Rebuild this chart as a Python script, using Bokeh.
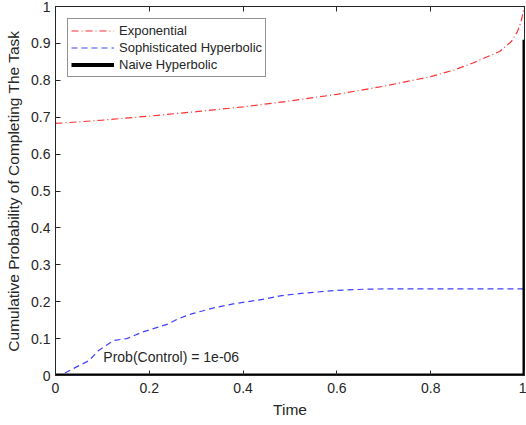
from bokeh.plotting import figure
from bokeh.models import Range1d, FixedTicker, LinearAxis, Legend, LegendItem
from bokeh.core.properties import value
from bokeh.embed import file_html
from bokeh.resources import INLINE

# ---- data ----
x_ticks = [0, 0.2, 0.4, 0.6, 0.8, 1]
x_tick_labels = ["0", "0.2", "0.4", "0.6", "0.8", "1"]
y_ticks = [0, 0.1, 0.2, 0.3, 0.4, 0.5, 0.6, 0.7, 0.8, 0.9, 1]
y_tick_labels = ["0", "0.1", "0.2", "0.3", "0.4", "0.5", "0.6", "0.7", "0.8", "0.9", "1"]

exp_t = [0.0, 0.1, 0.2, 0.3, 0.4, 0.5, 0.6, 0.7, 0.8, 0.85, 0.89, 0.947, 0.972, 0.985, 0.993, 0.998, 1.0]
exp_p = [0.683, 0.692, 0.703, 0.715, 0.728, 0.744, 0.762, 0.784, 0.81, 0.828, 0.847, 0.878, 0.905, 0.932, 0.96, 0.99, 1.0]

soph_t = [0.0, 0.01, 0.043, 0.071, 0.092, 0.124, 0.152, 0.184, 0.241, 0.262, 0.29, 0.34,
          0.379, 0.45, 0.479, 0.52, 0.592, 0.66, 0.734, 0.85, 1.0]
soph_p = [0.0, 0.0, 0.022, 0.04, 0.068, 0.095, 0.1, 0.117, 0.14, 0.154, 0.167, 0.184,
          0.194, 0.208, 0.216, 0.222, 0.23, 0.234, 0.235, 0.235, 0.235]

naive_t = [0.0, 1.0, 1.0]
naive_p = [0.0, 0.0, 0.91]

series_names = ["Exponential", "Sophisticated Hyperbolic", "Naive Hyperbolic"]
annotation_text = "Prob(Control) = 1e-06"
annotation_pos = (0.102, 0.051)

FONT = "Liberation Sans"
DARK = "#262626"

p = figure(width=526, height=425, x_range=Range1d(0, 1), y_range=Range1d(0, 1),
           output_backend="svg", toolbar_location=None,
           min_border_left=55, min_border_right=2, min_border_top=6, min_border_bottom=50)
p.outline_line_color = DARK
p.outline_line_width = 1
p.xgrid.visible = False
p.ygrid.visible = False
p.background_fill_color = "white"
p.border_fill_color = "white"

def style_axis(ax, show_labels=True, standoff=5):
    ax.axis_line_color = DARK
    ax.axis_line_width = 1
    ax.major_tick_line_color = DARK
    ax.major_tick_in = 5
    ax.major_tick_out = 0
    ax.minor_tick_line_color = None
    ax.major_label_text_font = FONT
    ax.major_label_text_color = DARK
    ax.axis_label_text_font = FONT
    ax.axis_label_text_color = DARK
    ax.axis_label_text_font_style = "normal"
    if show_labels:
        ax.major_label_text_font_size = "14px"
        ax.major_label_standoff = standoff
    else:
        ax.major_label_text_font_size = "0px"
        ax.major_label_standoff = 0

xa = p.xaxis[0]
ya = p.yaxis[0]
xa.ticker = FixedTicker(ticks=x_ticks)
ya.ticker = FixedTicker(ticks=y_ticks)
xa.major_label_overrides = dict(zip(x_ticks, x_tick_labels))
ya.major_label_overrides = dict(zip(y_ticks, y_tick_labels))
style_axis(xa, standoff=7)
style_axis(ya, standoff=5)
xa.axis_label = "Time"
ya.axis_label = "Cumulative Probability of Completing The Task"
xa.axis_label_text_font_size = "15.5px"
ya.axis_label_text_font_size = "15.5px"
xa.axis_label_standoff = 5
ya.axis_label_standoff = 6

top = LinearAxis(ticker=FixedTicker(ticks=x_ticks))
style_axis(top, False)
top.major_label_overrides = {t: "" for t in x_ticks}
p.add_layout(top, "above")

r_exp = p.line(exp_t, exp_p, line_color="#ff0000", line_alpha=0.8, line_width=1.2,
               line_dash="7 3 1 3")
r_soph = p.line(soph_t, soph_p, line_color="#0000ff", line_alpha=0.75, line_width=1.2,
                line_dash="6 4")
r_naive = p.line(naive_t, naive_p, line_color="black", line_width=4)

p.text(x=[annotation_pos[0]], y=[annotation_pos[1]], text=[annotation_text],
       text_font=value(FONT), text_font_size="14px", text_color=DARK,
       text_baseline="middle", text_align="left")

legend = Legend(items=[LegendItem(label=series_names[0], renderers=[r_exp]),
                       LegendItem(label=series_names[1], renderers=[r_soph]),
                       LegendItem(label=series_names[2], renderers=[r_naive])],
                location="top_left")
legend.margin = 12
legend.padding = 3
legend.spacing = 0
legend.glyph_width = 43
legend.glyph_height = 17
legend.label_height = 17
legend.label_standoff = 5
legend.label_text_font = FONT
legend.label_text_font_size = "13px"
legend.label_text_color = DARK
legend.border_line_color = DARK
legend.border_line_width = 1
legend.background_fill_color = "white"
legend.background_fill_alpha = 1
p.add_layout(legend, "center")

open("out.html", "w").write(file_html(p, INLINE))
